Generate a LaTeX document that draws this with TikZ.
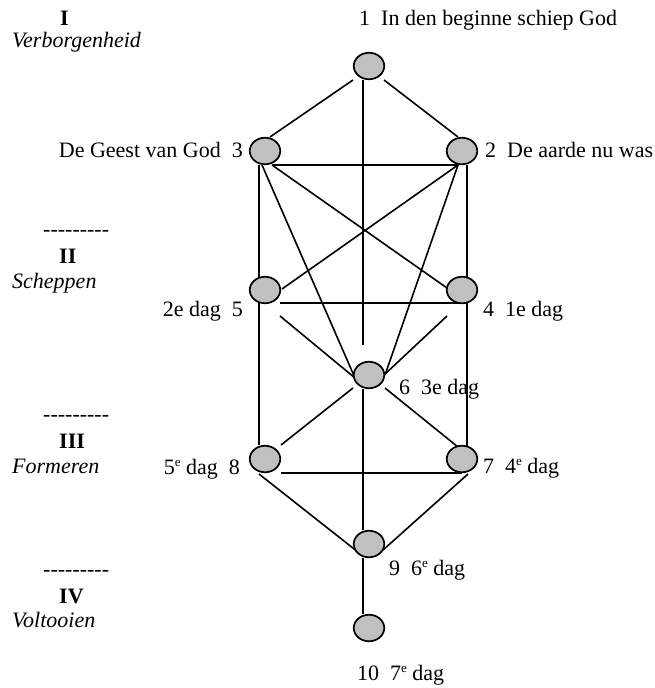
\documentclass[tikz,border=0pt]{standalone}
\usepackage{fontspec}
\setmainfont{Liberation Serif}
\usetikzlibrary{shapes.geometric,calc,backgrounds}
\definecolor{dotgray}{RGB}{192,192,192}
\newcommand{\supe}{\raisebox{0.36em}{\fontsize{13}{13}\selectfont e}}
\newcommand{\hy}{\mbox{-}}
\newcommand{\dashrow}{\hy\hy\hy\hy\hy\hy\hy\hy\hy}
\begin{document}
\begin{tikzpicture}[x=1pt,y=-1pt,
  dot/.style={ellipse,draw=black,fill=dotgray,line width=1.7pt,minimum width=30.5pt,minimum height=26.5pt,inner sep=0pt},
  lbl/.style={inner sep=0pt,font=\fontsize{22}{26}\selectfont},
  ln/.style={line width=1.6pt}]
\useasboundingbox (0,0) rectangle (655,688);
% tree nodes
\node[dot] (n1) at (369,66) {};
\node[dot] (n2) at (462,151) {};
\node[dot] (n3) at (265,151) {};
\node[dot] (n4) at (462,290) {};
\node[dot] (n5) at (265,290) {};
\node[dot] (n6) at (369,375) {};
\node[dot] (n7) at (462,459) {};
\node[dot] (n8) at (265,459) {};
\node[dot] (n9) at (369,544) {};
\node[dot] (n10) at (369,628) {};
\coordinate (n1end) at ($(n6)+(-6,-30)$);
% connectors
\begin{scope}[on background layer]
\draw[ln] ($(n1)+(-16,14)$) -- ($(n3)+(5,-14)$);
\draw[ln] ($(n1)+(15,14)$) -- ($(n2)+(-4,-14)$);
\draw[ln] ($(n1)+(-6,14)$) -- (n1end);
\draw[ln] ($(n3)+(7,14)$) -- ($(n2)+(-4,14)$);
\draw[ln] ($(n3)+(-6,14)$) -- ($(n8)+(-6,-14)$);
\draw[ln] ($(n2)+(5,14)$) -- ($(n7)+(5,-12)$);
\draw[ln] ($(n3)+(7,14)$) -- ($(n4)+(-15,-2)$);
\draw[ln] ($(n2)+(-4,14)$) -- ($(n5)+(17,-1)$);
\draw[ln] ($(n3)+(-3,14)$) -- ($(n6)+(-14,3)$);
\draw[ln] ($(n2)+(-4,14)$) -- ($(n6)+(16,0)$);
\draw[ln] ($(n5)+(15,13)$) -- ($(n4)+(0,13)$);
\draw[ln] ($(n5)+(15,26)$) -- ($(n6)+(-14,3)$);
\draw[ln] ($(n4)+(-15,26)$) -- ($(n6)+(15,0)$);
\draw[ln] ($(n6)+(-16,13)$) -- ($(n8)+(16,-14)$);
\draw[ln] ($(n6)+(16,13)$) -- ($(n7)+(-4,-12)$);
\draw[ln] ($(n6)+(-6,14)$) -- ($(n9)+(-6,-14)$);
\draw[ln] ($(n8)+(16,14)$) -- ($(n7)+(0,14)$);
\draw[ln] ($(n8)+(-6,15)$) -- ($(n9)+(-6,12)$);
\draw[ln] ($(n7)+(6,15)$) -- ($(n9)+(14,6)$);
\draw[ln] ($(n9)+(-6,14)$) -- ($(n10)+(-6,-14)$);
\end{scope}
% node labels
\node[lbl,anchor=base west] (t1) at (359,25) {1\ \ In den beginne schiep God};
\node[lbl,anchor=base west] (t2) at (485,157) {2\ \ De aarde nu was};
\node[lbl,anchor=base east] (t3) at (243,157) {De Geest van God\ \ 3};
\node[lbl,anchor=base west] (t4) at (483,316) {4\ \ 1e dag};
\node[lbl,anchor=base east] (t5) at (243,316) {2e dag\ \ 5};
\node[lbl,anchor=base west] (t6) at (399,394) {6\ \ 3e dag};
\node[lbl,anchor=base west] (t7) at (483,473) {7\ \ 4\supe\ dag};
\node[lbl,anchor=base east] (t8) at (240,474) {5\supe\ dag\ \ 8};
\node[lbl,anchor=base west] (t9) at (389,575) {9\ \ 6\supe\ dag};
\node[lbl,anchor=base west] (t10) at (357,680) {10\ \ 7\supe\ dag};
% left column
\node[lbl,anchor=base west] (r1) at (60,25) {\textbf{I}};
\node[lbl,anchor=base west] (w1) at (12,47) {\textit{Verborgenheid}};
\node[lbl,anchor=base west] (d2) at (43,236) {\dashrow};
\node[lbl,anchor=base west] (r2) at (59,263) {\textbf{II}};
\node[lbl,anchor=base west] (w2) at (12,288) {\textit{Scheppen}};
\node[lbl,anchor=base west] (d3) at (43,421) {\dashrow};
\node[lbl,anchor=base west] (r3) at (59,448) {\textbf{III}};
\node[lbl,anchor=base west] (w3) at (12,473) {\textit{Formeren}};
\node[lbl,anchor=base west] (d4) at (43,576) {\dashrow};
\node[lbl,anchor=base west] (r4) at (59,603) {\textbf{IV}};
\node[lbl,anchor=base west] (w4) at (12,627) {\textit{Voltooien}};
\end{tikzpicture}
\end{document}
